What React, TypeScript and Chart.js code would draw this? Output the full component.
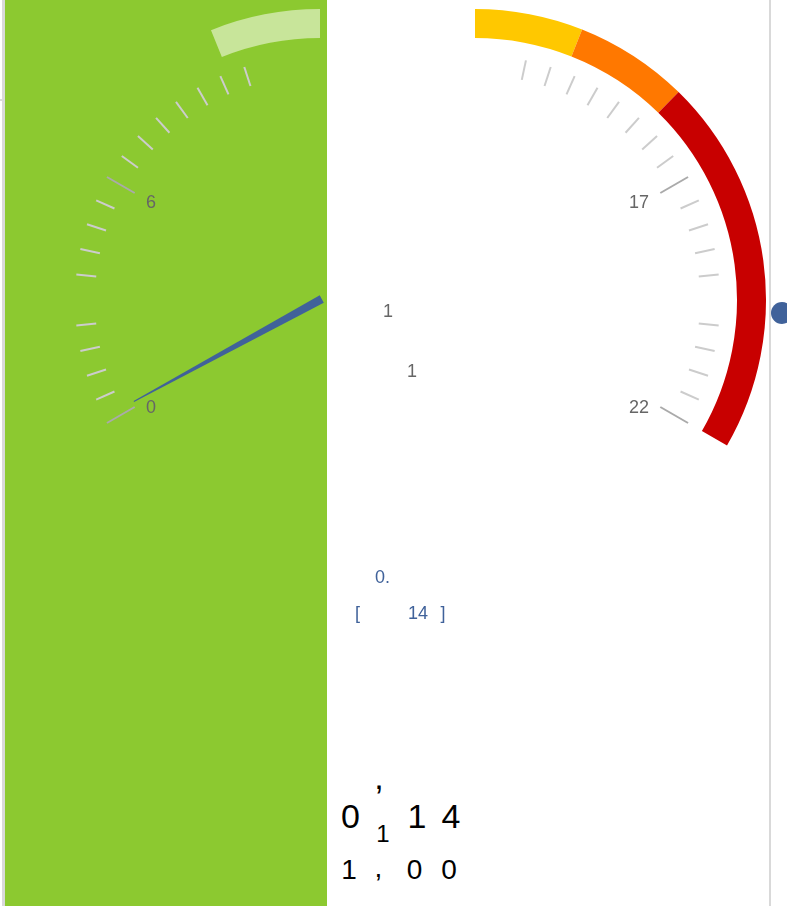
import React, { useEffect, useRef } from 'react';
import { Chart, registerables } from 'chart.js';

Chart.register(...registerables);

const FONT = '"Liberation Sans", Arial, Helvetica, sans-serif';

// ---- left pane of the gauge (0 .. 12) ----
const leftRange = [0, 12];
const leftAngles = [-120, 0];
const leftBandFrom = [9.8];
const leftBandTo = [12];
const leftBandColors = ['#c8e59a'];
const leftMinorTicks = [0.6, 1.2, 1.8, 2.4, 3.6, 4.2, 4.8, 5.4, 6.6, 7.2, 7.8, 8.4, 9.0, 9.6, 10.2];
const leftMajorTicks = [0, 6];
const leftTickLabels = ['0', '6'];
const needleValue = [0.14];

// ---- right pane of the gauge (12 .. 22) ----
const rightRange = [12, 22];
const rightAngles = [0, 120];
const rightBandFrom = [12, 13.8, 15.7];
const rightBandTo = [13.8, 15.7, 22];
const rightBandColors = ['#ffc800', '#ff7800', '#c80000'];
const rightMinorTicks = [13, 13.5, 14, 14.5, 15, 15.5, 16, 16.5, 17.5, 18, 18.5, 19, 20, 20.5, 21, 21.5];
const rightMajorTicks = [17, 22];
const rightTickLabels = ['17', '22'];

// ---- stray texts ----
const midTexts = ['1', '1'];
const valueTexts = ['0.', '[', '14', ']'];
const bigRow1 = ['0', ',', '1', '1', '4'];
const bigRow2 = ['1', ',', '0', '0'];

type PaneCfg = {
  range: number[];
  angles: number[];
  bandFrom: number[];
  bandTo: number[];
  bandColors: string[];
  minor: number[];
  major: number[];
  labels: string[];
  needle?: number[];
};

const OUTER = 291;
const INNER = 262;
const CANVAS = 600;

function toAngle(cfg: PaneCfg, v: number) {
  const [r0, r1] = cfg.range;
  const [a0, a1] = cfg.angles;
  return a0 + ((v - r0) / (r1 - r0)) * (a1 - a0);
}

function buildSegments(cfg: PaneCfg) {
  const data: number[] = [];
  const bg: string[] = [];
  let cur = cfg.angles[0];
  cfg.bandFrom.forEach((f, i) => {
    const s = toAngle(cfg, f);
    const e = toAngle(cfg, cfg.bandTo[i]);
    if (s > cur + 1e-6) {
      data.push(s - cur);
      bg.push('rgba(0,0,0,0)');
    }
    data.push(e - s);
    bg.push(cfg.bandColors[i]);
    cur = e;
  });
  data.push(360 - (cur - cfg.angles[0]));
  bg.push('rgba(0,0,0,0)');
  return { data, bg };
}

function makeDecorPlugin(cfg: PaneCfg) {
  return {
    id: 'gaugeDecor',
    afterDatasetsDraw(chart: any) {
      const arc = chart.getDatasetMeta(0).data[0];
      if (!arc) return;
      const cx = arc.x;
      const cy = arc.y;
      const ctx = chart.ctx as CanvasRenderingContext2D;
      const rad = (v: number) => (toAngle(cfg, v) * Math.PI) / 180;
      ctx.save();
      ctx.lineCap = 'butt';
      const tick = (v: number, r0: number, r1: number, color: string) => {
        const a = rad(v);
        ctx.beginPath();
        ctx.moveTo(cx + r0 * Math.sin(a), cy - r0 * Math.cos(a));
        ctx.lineTo(cx + r1 * Math.sin(a), cy - r1 * Math.cos(a));
        ctx.strokeStyle = color;
        ctx.lineWidth = 2;
        ctx.stroke();
      };
      cfg.minor.forEach((v) => tick(v, 225, 245, '#cccccc'));
      cfg.major.forEach((v) => tick(v, 214, 246, '#aaaaaa'));

      ctx.font = `18px ${FONT}`;
      ctx.fillStyle = '#666666';
      ctx.textBaseline = 'alphabetic';
      cfg.major.forEach((v, i) => {
        const a = rad(v);
        const x = cx + 201 * Math.sin(a);
        const yc = cy - 205 * Math.cos(a) + 4;
        ctx.textAlign = Math.sin(a) > 0 ? 'right' : 'left';
        ctx.fillText(cfg.labels[i], x, yc + 6.4);
      });

      if (cfg.needle) {
        const a = rad(cfg.needle[0]);
        const ux = Math.sin(a);
        const uy = -Math.cos(a);
        const px = -uy;
        const py = ux;
        const rear = 2;
        const len = 212;
        const bw = 4.2;
        const tw = 0.5;
        ctx.beginPath();
        ctx.moveTo(cx - rear * ux + bw * px, cy - rear * uy + bw * py);
        ctx.lineTo(cx + len * ux + tw * px, cy + len * uy + tw * py);
        ctx.lineTo(cx + len * ux - tw * px, cy + len * uy - tw * py);
        ctx.lineTo(cx - rear * ux - bw * px, cy - rear * uy - bw * py);
        ctx.closePath();
        ctx.fillStyle = '#40629a';
        ctx.fill();
      }
      ctx.restore();
    },
  };
}

function GaugePane({ cfg, cx, cy }: { cfg: PaneCfg; cx: number; cy: number }) {
  const ref = useRef<HTMLCanvasElement | null>(null);
  useEffect(() => {
    if (!ref.current) return;
    const { data, bg } = buildSegments(cfg);
    const chart = new Chart(ref.current, {
      type: 'doughnut',
      data: {
        labels: data.map(() => ''),
        datasets: [
          {
            data,
            backgroundColor: bg,
            borderWidth: 0,
            hoverOffset: 0,
            spacing: 0,
          } as any,
        ],
      },
      options: {
        responsive: false,
        animation: false,
        events: [],
        rotation: cfg.angles[0],
        circumference: 360,
        radius: OUTER,
        cutout: `${(INNER / OUTER) * 100}%`,
        layout: { padding: 0 },
        plugins: { legend: { display: false }, tooltip: { enabled: false } },
      } as any,
      plugins: [makeDecorPlugin(cfg)],
    });
    return () => chart.destroy();
  }, [cfg]);
  return (
    <canvas
      ref={ref}
      width={CANVAS}
      height={CANVAS}
      style={{ position: 'absolute', left: cx - CANVAS / 2, top: cy - CANVAS / 2 }}
    />
  );
}

const leftCfg: PaneCfg = {
  range: leftRange,
  angles: leftAngles,
  bandFrom: leftBandFrom,
  bandTo: leftBandTo,
  bandColors: leftBandColors,
  minor: leftMinorTicks,
  major: leftMajorTicks,
  labels: leftTickLabels,
  needle: needleValue,
};

const rightCfg: PaneCfg = {
  range: rightRange,
  angles: rightAngles,
  bandFrom: rightBandFrom,
  bandTo: rightBandTo,
  bandColors: rightBandColors,
  minor: rightMinorTicks,
  major: rightMajorTicks,
  labels: rightTickLabels,
};

function T({
  text,
  cx,
  base,
  size,
  color,
}: {
  text: string;
  cx: number;
  base: number;
  size: number;
  color: string;
}) {
  return (
    <div
      style={{
        position: 'absolute',
        left: cx,
        top: base - 0.8465 * size,
        transform: 'translateX(-50%)',
        fontFamily: FONT,
        fontSize: size,
        lineHeight: 1,
        color,
        whiteSpace: 'nowrap',
      }}
    >
      {text}
    </div>
  );
}

export default function App() {
  return (
    <div
      style={{
        position: 'absolute',
        left: 0,
        top: 0,
        width: 787,
        height: 906,
        overflow: 'hidden',
        background: '#ffffff',
      }}
    >
      <div style={{ position: 'absolute', left: 2, top: 0, width: 3, height: 906, background: '#d9d9d9' }} />
      <div style={{ position: 'absolute', left: 0, top: 99, width: 3, height: 2, background: '#d9d9d9' }} />
      <div style={{ position: 'absolute', left: 5, top: 0, width: 322, height: 906, background: '#8cc930' }} />
      <div style={{ position: 'absolute', left: 769, top: 0, width: 2, height: 906, background: '#d9d9d9' }} />
      <div
        style={{
          position: 'absolute',
          left: 771,
          top: 302,
          width: 22,
          height: 22,
          borderRadius: '50%',
          background: '#40629a',
        }}
      />
      <GaugePane cfg={leftCfg} cx={320} cy={300} />
      <GaugePane cfg={rightCfg} cx={475} cy={300} />

      <T text={midTexts[0]} cx={388} base={317} size={18} color="#666666" />
      <T text={midTexts[1]} cx={412} base={377} size={18} color="#666666" />

      <T text={valueTexts[0]} cx={382.5} base={583} size={18} color="#40629a" />
      <T text={valueTexts[1]} cx={357.5} base={619} size={18} color="#40629a" />
      <T text={valueTexts[2]} cx={418} base={619} size={18} color="#40629a" />
      <T text={valueTexts[3]} cx={443} base={619} size={18} color="#40629a" />

      <T text={bigRow1[0]} cx={350.5} base={828} size={34} color="#000000" />
      <T text={bigRow1[1]} cx={379} base={788.5} size={34} color="#000000" />
      <T text={bigRow1[2]} cx={383} base={842} size={24} color="#000000" />
      <T text={bigRow1[3]} cx={417} base={828} size={34} color="#000000" />
      <T text={bigRow1[4]} cx={451} base={828} size={34} color="#000000" />

      <T text={bigRow2[0]} cx={349} base={880} size={28} color="#000000" />
      <T text={bigRow2[1]} cx={378.5} base={878} size={28} color="#000000" />
      <T text={bigRow2[2]} cx={414.5} base={880} size={28} color="#000000" />
      <T text={bigRow2[3]} cx={449} base={880} size={28} color="#000000" />
    </div>
  );
}
